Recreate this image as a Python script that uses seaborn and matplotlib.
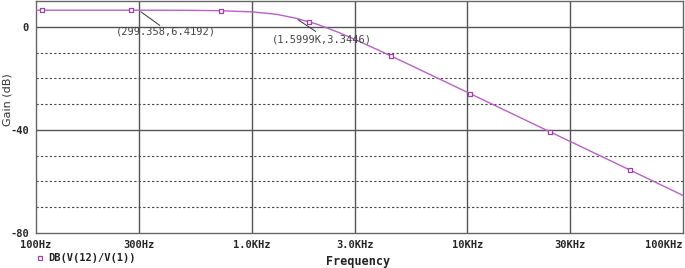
import numpy as np
import pandas as pd
import matplotlib
matplotlib.use("Agg")
import matplotlib.pyplot as plt
import seaborn as sns

# Frequenz (Hz) und Verstärkung (dB)
freq = [100, 200, 300, 500, 700, 1000, 1300, 1600, 2000, 2500, 3000, 4000,
        5000, 7000, 10000, 15000, 20000, 30000, 50000, 70000, 100000]
gain = [6.42, 6.42, 6.42, 6.38, 6.26, 5.80, 4.85, 3.34, 1.05, -2.01, -4.84,
        -9.61, -13.42, -19.23, -25.42, -32.46, -37.46, -44.50, -53.37,
        -59.22, -65.42]

# Marker-Punkte der Kurve
mark_freq = [107, 275, 720, 1845, 4430, 10280, 24150, 56750]
mark_gain = [6.42, 6.42, 6.25, 2.0, -11.35, -25.9, -40.7, -55.6]

xtick_vals = [100, 300, 1000, 3000, 10000, 30000, 100000]
xtick_labels = ["100Hz", "300Hz", "1.0KHz", "3.0KHz", "10KHz", "30KHz", "100KHz"]

curve = pd.DataFrame({"f": freq, "g": gain})
marks = pd.DataFrame({"f": mark_freq, "g": mark_gain})

sns.set_style("white")
mono = "DejaVu Sans Mono"
col = "#b860c8"

W, H = 685, 268
fig = plt.figure(figsize=(W / 100, H / 100), dpi=100)
ax = fig.add_axes([36 / W, 35 / H, 647 / W, 232 / H])


def fpix(x, y):
    # Pixel (von oben links) -> Figurenanteil
    return (x / W, 1 - y / H)


# Gitter
for v in [300, 1000, 3000, 10000, 30000]:
    ax.axvline(v, color="#555555", lw=1.0, zorder=1)
for v in [0, -40]:
    ax.axhline(v, color="#555555", lw=1.0, zorder=1)
for v in [-10, -20, -30, -50, -60, -70]:
    ax.axhline(v, color="#444444", lw=0.8, ls=(0, (2, 2)), zorder=1)

sns.lineplot(data=curve, x="f", y="g", ax=ax, color=col, lw=1.0, zorder=3)
sns.scatterplot(data=marks, x="f", y="g", ax=ax, marker="s", s=12,
                facecolor="white", edgecolor="#a040a8", linewidth=0.9, zorder=4)

ax.set_xscale("log")
ax.set_xlim(100, 100000)
ax.set_ylim(-80, 10)
ax.set_xticks(xtick_vals)
ax.set_xticklabels(xtick_labels, fontfamily=mono, fontweight="bold", fontsize=7.5)
ax.get_xticklabels()[-1].set_ha("right")
ax.xaxis.set_minor_locator(matplotlib.ticker.NullLocator())
ax.set_yticks([0, -40, -80])
ax.set_yticklabels(["0", "-40", "-80"], fontfamily=mono, fontweight="bold", fontsize=7.5)
ax.set_yticks([-10, -20, -30, -50, -60, -70], minor=True)
ax.tick_params(axis="both", which="major", length=3, width=0.8, pad=2, color="#555555")
ax.tick_params(axis="y", which="minor", length=2, width=0.6, color="#555555")
ax.set_xlabel("")
ax.set_ylabel("")
for s in ax.spines.values():
    s.set_color("#666666")
    s.set_linewidth(1.0)

fig.text(*fpix(8, 100), "Gain (dB)", fontsize=8, rotation=90,
         ha="center", va="center", color="#333333")

# Cursor-Beschriftungen
ax.annotate("(299.358,6.4192)", xy=(299.358, 6.4192), xytext=fpix(116, 31),
            textcoords="figure fraction", fontsize=7.5, fontfamily=mono,
            color="#444444", va="center", ha="left")
ax.annotate("", xy=(299.358, 6.4192), xytext=fpix(162, 27),
            textcoords="figure fraction",
            arrowprops=dict(arrowstyle="-", color="#333333", lw=0.7))
ax.annotate("(1.5999K,3.3446)", xy=(1599.9, 3.3446), xytext=fpix(272, 39),
            textcoords="figure fraction", fontsize=7.5, fontfamily=mono,
            color="#444444", va="center", ha="left")
ax.annotate("", xy=(1599.9, 3.3446), xytext=fpix(318, 33),
            textcoords="figure fraction",
            arrowprops=dict(arrowstyle="-", color="#333333", lw=0.7))

fig.text(*fpix(358, 261), "Frequency", fontfamily=mono, fontweight="bold",
         fontsize=8.5, ha="center", va="center", color="#222222")
fig.text(*fpix(48, 258), "DB(V(12)/V(1))", fontfamily=mono, fontweight="bold",
         fontsize=7.5, ha="left", va="center", color="#222222")
lx, ly = fpix(40, 258)
fig.add_artist(plt.Line2D([lx], [ly], marker="s", ms=3.5,
                          mfc="white", mec="#a040a8", mew=0.9, ls=""))

fig.savefig("out.png", dpi=100)
